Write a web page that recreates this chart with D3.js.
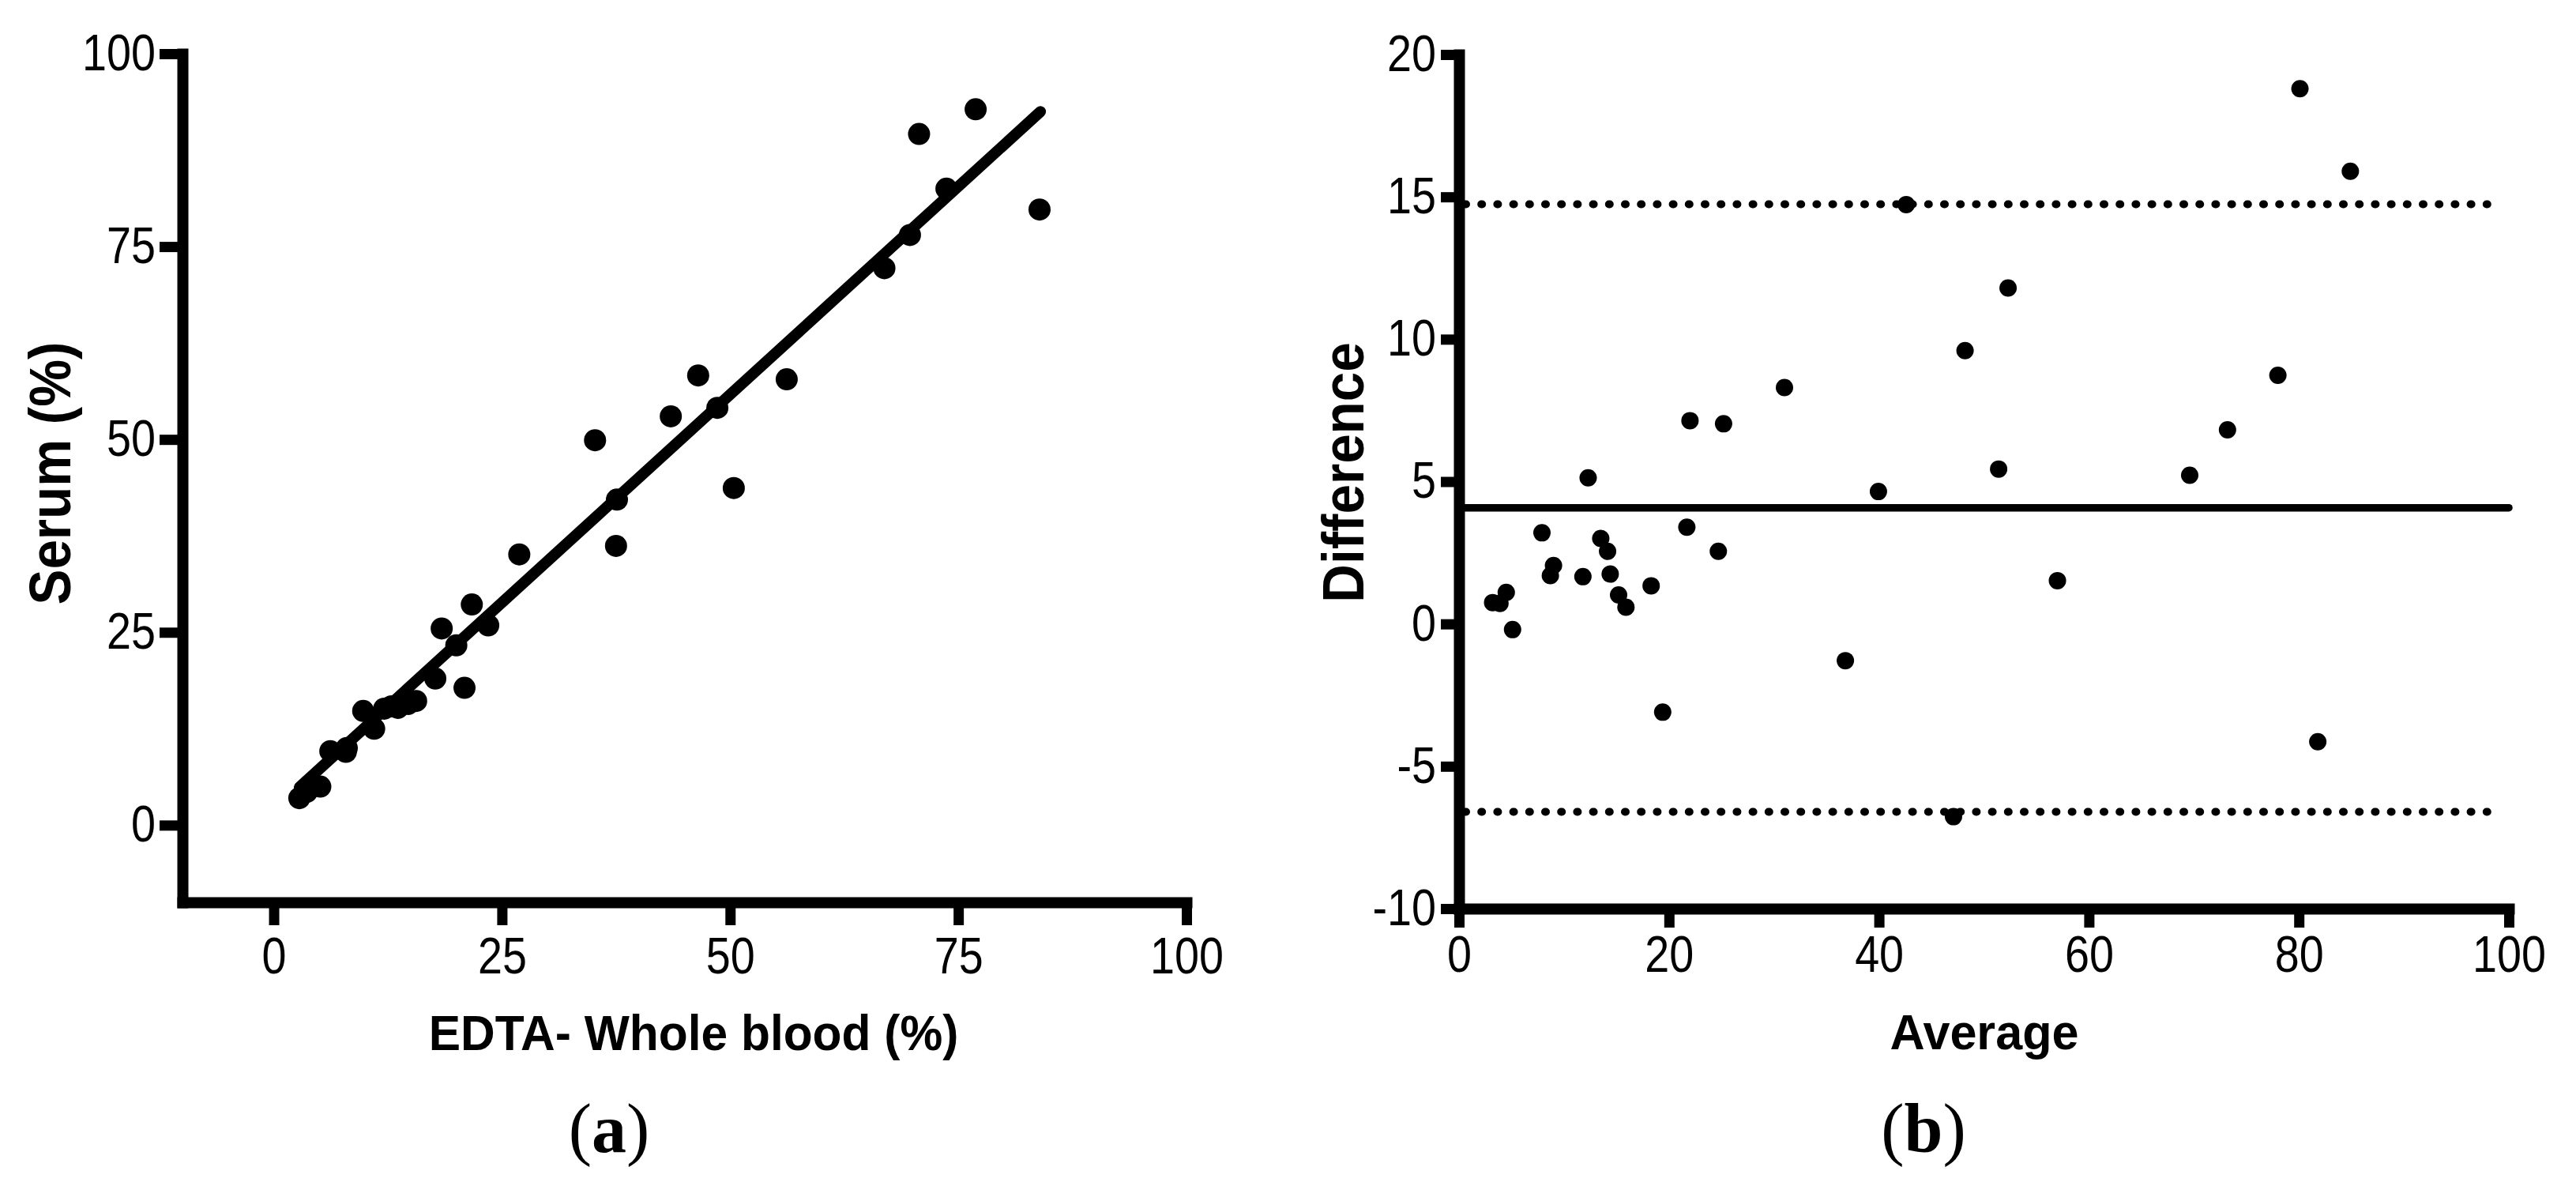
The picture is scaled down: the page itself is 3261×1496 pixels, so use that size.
<!DOCTYPE html>
<html><head><meta charset="utf-8">
<script src="https://cdn.jsdelivr.net/npm/d3@7"></script>
<style>
html,body{margin:0;padding:0;background:#fff;}
svg{display:block;}
</style></head><body>
<svg id="chart" width="3261" height="1496"></svg>
<script>
// ---------- Panel (a): EDTA whole blood vs serum ----------
const edtaValues  = [2.8, 3.6, 3.9, 5.1, 6.2, 7.9, 8.0, 11.0, 9.8, 12.1, 12.9, 13.6, 14.7, 15.6, 17.7, 20.9, 20.0, 18.4, 23.5, 21.7, 26.9, 37.5, 37.6, 35.2, 50.4, 43.5, 48.6, 46.5, 56.2, 66.9, 69.7, 73.7, 70.7, 83.9, 76.9];
const serumValues = [3.5, 4.3, 5.1, 5.0, 9.6, 9.5, 10.0, 12.5, 14.8, 15.1, 15.4, 15.2, 15.7, 16.1, 19.0, 17.8, 23.3, 25.5, 25.9, 28.6, 35.1, 36.2, 42.2, 49.9, 43.7, 53.0, 54.1, 58.3, 57.8, 72.2, 76.5, 82.5, 89.6, 79.8, 92.8];
const regressionX = [2.8, 84.0];
const regressionY = [4.9, 92.5];
const xTicksA = [0, 25, 50, 75, 100];
const yTicksA = [0, 25, 50, 75, 100];
const xTitleA = "EDTA- Whole blood (%)";
const yTitleA = "Serum (%)";

// ---------- Panel (b): Bland-Altman ----------
const averageValues    = [3.2, 3.9, 4.5, 5.1, 7.9, 8.7, 9.0, 11.8, 12.3, 13.5, 14.15, 14.4, 15.2, 15.9, 18.3, 19.4, 21.7, 22.0, 24.7, 25.2, 31.0, 36.8, 39.95, 42.6, 47.1, 48.2, 51.4, 52.3, 57.0, 69.6, 73.2, 78.0, 80.1, 81.8, 84.9];
const differenceValues = [0.75, 0.72, 1.11, -0.2, 3.2, 1.7, 2.05, 1.66, 5.13, 3.0, 2.55, 1.75, 1.02, 0.59, 1.34, -3.1, 3.4, 7.14, 2.55, 7.03, 8.3, -1.29, 4.65, 14.73, -6.77, 9.6, 5.44, 11.8, 1.52, 5.22, 6.82, 8.73, 18.8, -4.14, 15.9];
const meanBias   = 4.08;
const upperLimit = 14.74;
const lowerLimit = -6.6;
const xTicksB = [0, 20, 40, 60, 80, 100];
const yTicksB = [-10, -5, 0, 5, 10, 15, 20];
const xTitleB = "Average";
const yTitleB = "Difference";

const panelLabels = ["a", "b"];

// ---------- drawing ----------
const svg = d3.select("#chart");
const sans = '"Liberation Sans", Arial, Helvetica, sans-serif';
const serif = '"Liberation Serif", "Times New Roman", Times, serif';
const plainFormat = d => String(d);   // keeps the ASCII hyphen-minus, as in the original

function condenseTicks(g, sx) {
  g.selectAll(".tick text").each(function () {
    const t = d3.select(this);
    const x = +t.attr("x") || 0, y = +t.attr("y") || 0;
    t.attr("x", 0).attr("y", 0).attr("transform", `translate(${x},${y}) scale(${sx},1)`);
  });
}
function styleAxis(g) {
  g.select(".domain").attr("stroke", "#000").attr("stroke-width", 14).attr("stroke-linecap", "square");
  g.selectAll(".tick line").attr("stroke", "#000").attr("stroke-width", 13);
  g.selectAll(".tick text").attr("fill", "#000").attr("font-family", sans).attr("font-size", 64);
  condenseTicks(g, 0.87);
}

// Panel (a)
const xA = d3.scaleLinear().domain([-10, 100]).range([231, 1502]);
const yA = d3.scaleLinear().domain([-10, 100]).range([1142, 68]);

const gA = svg.append("g");
const axAy = gA.append("g").attr("transform", `translate(${xA(-10)},0)`)
  .call(d3.axisLeft(yA).tickValues(yTicksA).tickSize(29).tickSizeOuter(0).tickPadding(5).tickFormat(plainFormat));
styleAxis(axAy);
const axAx = gA.append("g").attr("transform", `translate(0,${yA(-10)})`)
  .call(d3.axisBottom(xA).tickValues(xTicksA).tickSize(29).tickSizeOuter(0).tickPadding(16).tickFormat(plainFormat));
styleAxis(axAx);

gA.append("line")
  .attr("x1", xA(regressionX[0])).attr("y1", yA(regressionY[0]))
  .attr("x2", xA(regressionX[1])).attr("y2", yA(regressionY[1]))
  .attr("stroke", "#000").attr("stroke-width", 14).attr("stroke-linecap", "round");

gA.append("g").selectAll("circle").data(edtaValues).join("circle")
  .attr("cx", d => xA(d)).attr("cy", (d, i) => yA(serumValues[i])).attr("r", 14).attr("fill", "#000");

gA.append("text").attr("transform", "translate(878,1329) scale(0.96,1)")
  .attr("text-anchor", "middle").attr("font-family", sans).attr("font-weight", "bold").attr("font-size", 63)
  .text(xTitleA);
gA.append("text").attr("transform", "translate(89,599) rotate(-90) scale(0.91,1)")
  .attr("text-anchor", "middle").attr("font-family", sans).attr("font-weight", "bold").attr("font-size", 74)
  .text(yTitleA);

// Panel (b)
const xB = d3.scaleLinear().domain([0, 100]).range([1847, 3176]);
const yB = d3.scaleLinear().domain([-10, 20]).range([1150, 69]);

const gB = svg.append("g");
const axBy = gB.append("g").attr("transform", `translate(${xB(0)},0)`)
  .call(d3.axisLeft(yB).tickValues(yTicksB).tickSize(23).tickSizeOuter(0).tickPadding(6).tickFormat(plainFormat));
styleAxis(axBy);
const axBx = gB.append("g").attr("transform", `translate(0,${yB(-10)})`)
  .call(d3.axisBottom(xB).tickValues(xTicksB).tickSize(24).tickSizeOuter(0).tickPadding(11).tickFormat(plainFormat));
styleAxis(axBx);

// limits of agreement (dotted)
[upperLimit, lowerLimit].forEach(v => {
  gB.append("line")
    .attr("x1", xB(0) + 8).attr("x2", xB(99))
    .attr("y1", yB(v)).attr("y2", yB(v))
    .attr("stroke", "#000").attr("stroke-width", 10).attr("stroke-linecap", "round")
    .attr("stroke-dasharray", "1 19.2");
});
// mean bias (solid)
gB.append("line")
  .attr("x1", xB(0)).attr("x2", xB(100))
  .attr("y1", yB(meanBias)).attr("y2", yB(meanBias))
  .attr("stroke", "#000").attr("stroke-width", 9.5).attr("stroke-linecap", "round");

gB.append("g").selectAll("circle").data(averageValues).join("circle")
  .attr("cx", d => xB(d)).attr("cy", (d, i) => yB(differenceValues[i])).attr("r", 11).attr("fill", "#000");

gB.append("text").attr("transform", "translate(2512,1328) scale(0.97,1)")
  .attr("text-anchor", "middle").attr("font-family", sans).attr("font-weight", "bold").attr("font-size", 63)
  .text(xTitleB);
gB.append("text").attr("transform", "translate(1726,598) rotate(-90) scale(0.91,1)")
  .attr("text-anchor", "middle").attr("font-family", sans).attr("font-weight", "bold").attr("font-size", 74)
  .text(yTitleB);

// panel labels
const labelX = [771, 2435];
panelLabels.forEach((p, i) => {
  const t = svg.append("text").attr("x", labelX[i]).attr("y", 1458)
    .attr("text-anchor", "middle").attr("font-family", serif).attr("font-size", 88).attr("fill", "#000");
  t.append("tspan").text("(");
  t.append("tspan").attr("font-weight", "bold").text(p);
  t.append("tspan").text(")");
});
</script>
</body></html>
